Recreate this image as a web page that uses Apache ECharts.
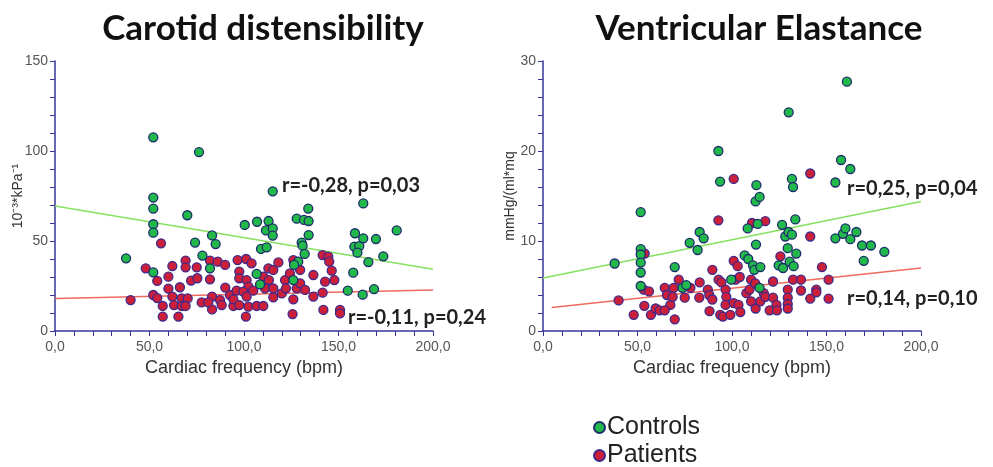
<!DOCTYPE html>
<html>
<head>
<meta charset="utf-8">
<script src="https://cdn.jsdelivr.net/npm/echarts@6/dist/echarts.min.js"></script>
<style>
  html, body { margin: 0; padding: 0; background: #fff; }
  #chart { width: 993px; height: 467px; }
</style>
</head>
<body>
<div id="chart"></div>
<script>
// titles and labels
var titles = ['Carotid distensibility', 'Ventricular Elastance']
var xName = 'Cardiac frequency (bpm)'
var yNames = ['10⁻³*kPa⁻¹', 'mmHg/(ml*mq']
var groups = ['Controls', 'Patients']
var stats = [
  ['r=-0,28, p=0,03', 'r=-0,11, p=0,24'],
  ['r=0,25, p=0,04', 'r=0,14, p=0,10']
]

// carotid distensibility, [bpm, value]
var carotidControls = [
  [52,107.6],[76.2,99.4],[37.6,40.4],[52,74.1],[52,68],[52,59.3],[52,54.6],[52,32.6],
  [70,64.3],[74.1,49.1],[78,41.9],[83.1,53.1],[85,48.3],[82,34.8],[100.4,58.9],[106.9,60.7],
  [109,45.6],[112,46.5],[113,61.1],[111.6,55.9],[115.2,77.6],[115.2,57],[115.2,53],[106.7,31.7],
  [108.5,25.9],[127.9,62.4],[131.7,61.7],[134.2,61.1],[134,68],[134.2,53.3],[130.5,49.1],[131,47.4],
  [132.1,42.8],[128.7,38.5],[126.5,36.7],[126.1,28.3],[163.1,70.9],[158.7,54.3],[158.4,46.9],[161,47.2],
  [163.1,51.5],[160,43.5],[169.8,51.1],[165.8,38.3],[173.7,41.5],[180.8,55.9],[157.8,32.4],[154.9,22.4],
  [168.8,23.3],[162.8,20.2]
]
var carotidPatients = [
  [40,17.2],[48,34.8],[56.1,48.7],[54.1,27.8],[52,20],[54.1,18.3],[57,13.9],[57,8],
  [60,30.2],[60,23.5],[62.1,36.1],[62.1,19.1],[63,14.4],[66.1,24.3],[65.3,8],[67,18.1],
  [67,13.9],[69.1,39.1],[69.1,35.4],[70.2,18.1],[69.1,13.9],[72,28],[75,35.4],[75.3,29.3],
  [77.6,15.9],[82,39.1],[82,28.7],[83.1,19.1],[83.1,12],[81.1,15.9],[86.1,38.5],[90,36.7],
  [87.3,17.2],[88.2,14.4],[90.1,24.1],[92.6,20],[94.4,13.9],[96.6,39.4],[97.5,33],[97.5,29.3],
  [96.1,22.4],[94.4,17.6],[97.5,14.4],[101.1,40],[101,8],[104,37.6],[101.4,28.3],[102.3,24.6],
  [99.6,21.9],[101.4,19.1],[102.3,13.5],[104.9,22.4],[106.7,13.9],[110.2,30.2],[111.1,23.7],[110.2,13.9],
  [112.9,34.8],[115.5,33.9],[113.2,28.3],[115.5,23.7],[115.5,18.7],[118.2,38.1],[121.7,28.3],[120,20.9],
  [122.2,23.7],[126.1,39.4],[126.1,17.6],[125.7,9.4],[124.3,32],[127.9,23.7],[129.7,33.9],[129.7,26.5],
  [132.3,22.8],[136.7,31.1],[136.7,19.1],[141.6,42.2],[144.6,41.3],[145.1,38.5],[142.9,27.4],[141.6,21.3],
  [142,11.7],[146.4,33.5],[147.8,28.3],[150.8,11.7],[150.8,9.8]
]

// ventricular elastance, [bpm, value]
var elastanceControls = [
  [37.9,7.5],[51.7,13.2],[51.7,9.1],[51.7,8.5],[51.7,7.6],[51.7,6.5],[51.7,5.0],[69.7,7.1],
  [73.8,4.8],[75.8,5.1],[77.6,9.8],[81.8,9.0],[82.9,11.0],[85,10.3],[92.8,20.0],[93.7,16.6],
  [99.6,5.7],[106.7,8.4],[108.6,8.0],[108.3,11.4],[111.1,7.3],[111.8,6.8],[112.9,16.2],[112.5,14.4],
  [114.6,14.9],[113.6,11.9],[112.7,9.6],[115,7.1],[114.6,4.8],[130,24.3],[126.5,11.8],[128.2,10.5],
  [129.9,11],[131.7,10.7],[131.7,16.9],[132.3,16.0],[133.5,12.4],[134,8.6],[129.5,9.2],[124.7,7.3],
  [127,7.0],[130.5,7.7],[132.6,7.2],[160.8,27.7],[157.7,19.0],[162.6,18.0],[154.7,16.5],[154.7,10.3],
  [158.7,10.8],[160,11.4],[162.6,10.2],[165.8,11],[168.8,9.5],[173.5,9.5],[169.7,7.8],[180.6,8.8]
]
var elastancePatients = [
  [40,3.4],[48,1.8],[53.8,8.6],[53.3,4.6],[56.1,4.4],[53.6,2.8],[57.1,1.8],[59.6,2.5],
  [61.7,2.3],[64.4,4.8],[65.6,4.0],[67.4,2.9],[64.4,2.3],[69.1,4.8],[68.6,3.8],[69.7,1.3],
  [71.8,5.7],[75,3.7],[78,4.8],[82.9,5.4],[82.7,3.7],[87.2,4.6],[88,4.0],[88.1,2.2],
  [89.6,6.8],[89.6,3.5],[92.8,12.3],[92.9,5.7],[94.4,5.4],[96.6,4.6],[97,3.8],[96.6,2.9],
  [93.8,1.8],[95.2,1.6],[99.1,1.8],[100.9,16.9],[100.9,7.8],[103,7.2],[101.9,5.7],[104.1,6.0],
  [100.9,3.1],[103.4,2.9],[104.4,2.1],[107.6,4.2],[109.3,4.6],[110.6,12.0],[110.1,5.7],[110.1,3.3],
  [112.3,5.3],[112.5,2.5],[115,3.3],[117.6,12.2],[116.8,4.2],[117.6,3.8],[119.9,2.3],[121.7,5.5],
  [121.7,3.7],[123.5,2.9],[123.8,2.3],[125.6,8.3],[129.5,4.6],[129.5,3.7],[129.5,3.0],[129.5,2.5],
  [132.3,5.7],[136.5,5.7],[136.5,4.5],[141.4,17.5],[141.4,10.5],[141.4,3.6],[144.6,4.6],[144.6,4.3],
  [147.6,7.1],[151.1,5.7],[151.1,3.6]
]

// regression lines, end points
var carotidFitControls = [[0, 69.4], [200, 34.3]]
var carotidFitPatients = [[0, 18.1], [200, 22.8]]
var elastanceFitControls = [[0, 5.9], [200, 14.4]]
var elastanceFitPatients = [[4.6, 2.6], [200, 7.0]]

var yMax = [150, 30]
var yStep = [50, 10]

var chart = echarts.init(document.getElementById('chart'))

var axisColor = '#34349a'
var green = '#22b84a'
var red = '#cc1f3a'

function xAxis(idx) {
  return {
    gridIndex: idx,
    type: 'value',
    min: 0, max: 200, interval: 50,
    name: xName,
    nameLocation: 'middle',
    nameGap: 28,
    nameMoveOverlap: false,
    nameTextStyle: { fontFamily: 'Liberation Sans', fontSize: 18, color: '#333' },
    axisLine: { show: true, lineStyle: { color: axisColor, width: 1.5 } },
    axisTick: { show: true, length: 5, lineStyle: { color: axisColor } },
    minorTick: { show: true, splitNumber: 5, length: 5, lineStyle: { color: axisColor } },
    axisLabel: {
      fontFamily: 'Liberation Sans', fontSize: 14, color: '#555', margin: 9,
      formatter: function (v) { return v.toFixed(1).replace('.', ',') }
    },
    splitLine: { show: false }
  }
}

function yAxis(idx) {
  return {
    gridIndex: idx,
    type: 'value',
    min: 0, max: yMax[idx], interval: yStep[idx],
    name: yNames[idx],
    nameLocation: 'middle',
    nameRotate: 90,
    nameGap: idx === 0 ? 30 : 26,
    nameMoveOverlap: false,
    nameTextStyle: { fontFamily: 'Liberation Sans', fontSize: 14, color: '#333' },
    axisLine: { show: true, lineStyle: { color: axisColor, width: 1.5 } },
    axisTick: { show: true, length: 5, lineStyle: { color: axisColor } },
    minorTick: { show: true, splitNumber: 5, length: 5, lineStyle: { color: axisColor } },
    axisLabel: { fontFamily: 'Liberation Sans', fontSize: 14, color: '#555', margin: 7 },
    splitLine: { show: false }
  }
}

function fitLine(name, idx, data, color) {
  return {
    name: name, type: 'line', xAxisIndex: idx, yAxisIndex: idx,
    data: data, symbol: 'none', z: 1, silent: true,
    lineStyle: { color: color, width: 1.5 }
  }
}

function points(name, idx, data, color, border) {
  return {
    name: name, type: 'scatter', xAxisIndex: idx, yAxisIndex: idx,
    data: data, symbol: 'circle', symbolSize: 9, z: 3,
    itemStyle: { color: color, borderColor: border, borderWidth: 1.3, opacity: 1 }
  }
}

function statText(txt, x, y) {
  return {
    type: 'text', left: x, top: y,
    style: { text: txt, fontFamily: 'Lato', fontWeight: 'bold', fontSize: 20, fill: '#222' }
  }
}

function legendItem(name, top) {
  return {
    data: [name],
    orient: 'vertical',
    left: 588, top: top,
    icon: 'circle',
    itemWidth: 11, itemHeight: 11,
    textStyle: { fontFamily: 'Liberation Sans', fontSize: 25, color: '#222', padding: [0, 0, 0, -3] }
  }
}

var titleStyle = { fontFamily: 'Lato', fontWeight: 'bold', fontSize: 35, color: '#111' }

var option = {
  backgroundColor: '#fff',
  animation: false,
  title: [
    { text: titles[0], left: 258, top: 6, textAlign: 'center', textStyle: titleStyle },
    { text: titles[1], left: 754, top: 6, textAlign: 'center', textStyle: titleStyle }
  ],
  legend: [legendItem(groups[0], 410), legendItem(groups[1], 438)],
  grid: [
    { left: 55, right: 560, top: 61, bottom: 136 },
    { left: 543, right: 72, top: 61, bottom: 136 }
  ],
  xAxis: [xAxis(0), xAxis(1)],
  yAxis: [yAxis(0), yAxis(1)],
  graphic: [
    statText(stats[0][0], 282, 176),
    statText(stats[0][1], 348, 308),
    statText(stats[1][0], 847, 179),
    statText(stats[1][1], 847, 289)
  ],
  series: [
    fitLine('fitC0', 0, carotidFitControls, '#86e060'),
    fitLine('fitP0', 0, carotidFitPatients, '#ec6a5e'),
    fitLine('fitC1', 1, elastanceFitControls, '#86e060'),
    fitLine('fitP1', 1, elastanceFitPatients, '#ec6a5e'),
    points(groups[1], 0, carotidPatients, red, '#3c2a8c'),
    points(groups[0], 0, carotidControls, green, '#1c2c6c'),
    points(groups[1], 1, elastancePatients, red, '#3c2a8c'),
    points(groups[0], 1, elastanceControls, green, '#1c2c6c')
  ]
}

chart.setOption(option)
</script>
</body>
</html>
